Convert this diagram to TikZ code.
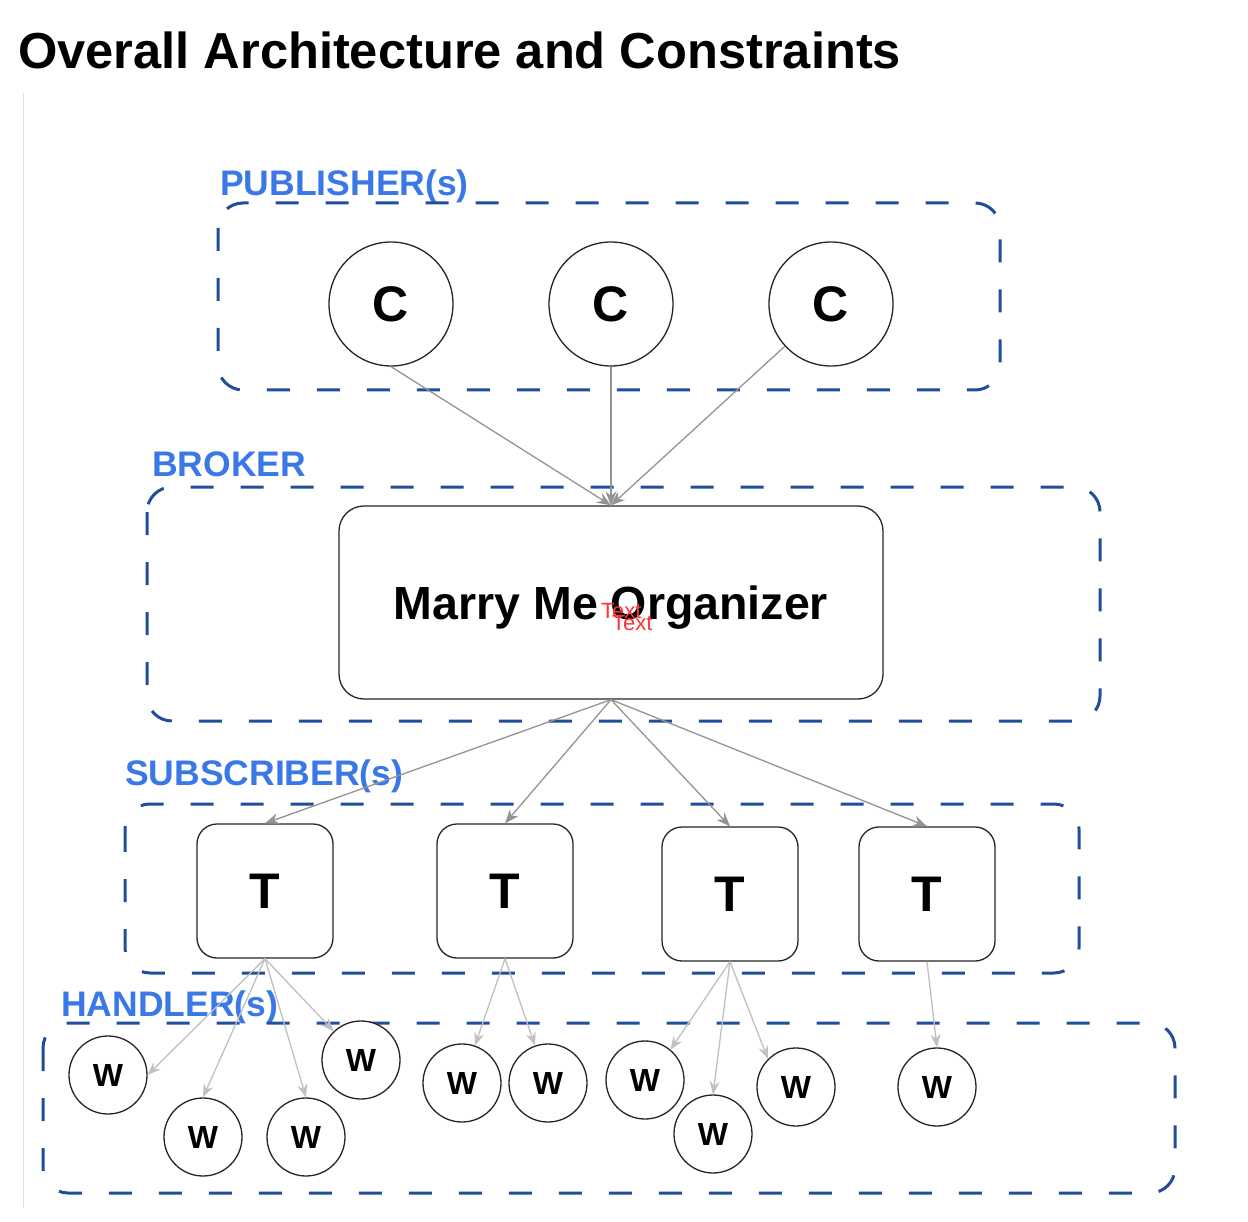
\documentclass[tikz,border=0pt]{standalone}
\usepackage{fontspec}
\setmainfont{Liberation Sans}
\usetikzlibrary{arrows.meta}
\definecolor{boxblue}{RGB}{33,78,155}
\definecolor{lblblue}{RGB}{59,120,231}
\definecolor{arrgray}{RGB}{148,148,148}
\definecolor{arrlight}{RGB}{192,192,192}
\definecolor{txtred}{RGB}{255,51,51}
\begin{document}
\begin{tikzpicture}[x=1pt,y=-1pt,
  group/.style={draw=boxblue, line width=3pt, dash pattern=on 23pt off 27pt, rounded corners=25pt},
  grouplabel/.style={anchor=base west, inner sep=0pt, text=lblblue, font=\fontsize{35.5}{40}\selectfont\bfseries},
  cnode/.style={circle, draw=black!85, line width=1.3pt, fill=white, minimum size=124pt, inner sep=0pt, text depth=0pt, font=\fontsize{50}{56}\selectfont\bfseries},
  tnode/.style={rectangle, rounded corners=20pt, draw=black!85, line width=1.3pt, fill=white, minimum width=136pt, minimum height=134pt, inner sep=0pt, text depth=0pt, font=\fontsize{50}{56}\selectfont\bfseries},
  wnode/.style={circle, draw=black!85, line width=1.3pt, fill=white, minimum size=78pt, inner sep=0pt, text depth=0pt, font=\fontsize{32}{36}\selectfont\bfseries},
  mnode/.style={rectangle, rounded corners=25pt, draw=black!85, line width=1.3pt, fill=white, minimum width=544pt, minimum height=193pt, inner sep=0pt, text depth=0pt, font=\fontsize{46.5}{52}\selectfont\bfseries},
  mainarrow/.style={draw=arrgray, line width=1.3pt, -{Stealth[length=14pt,width=11pt]}},
  subarrow/.style={draw=arrlight, line width=1.3pt, -{Stealth[length=13pt,width=10pt]}},
  redtext/.style={anchor=base west, inner sep=0pt, text=txtred, font=\fontsize{22}{26}\selectfont}
]
\useasboundingbox (0,0) rectangle (1248,1222);
\fill[white] (0,0) rectangle (1248,1222);

% title and side rule
\node[anchor=base west, inner sep=0pt, font=\fontsize{50.6}{58}\selectfont\bfseries] (title) at (18,69) {Overall Architecture and Constraints};
\draw[black!12, line width=1pt] (23,93) -- (23,1208);

% group labels
\node[grouplabel] (lpub) at (220,196) {PUBLISHER(s)};
\node[grouplabel] (lbro) at (152,476) {BROKER};
\node[grouplabel] (lsub) at (125,785) {SUBSCRIBER(s)};
\node[grouplabel] (lhan) at (61,1016) {HANDLER(s)};

% group boxes
\draw[group] (218,203) rectangle (1000,390);
\draw[group] (147,487) rectangle (1100,721);
\draw[group] (125,804) rectangle (1079,973);
\draw[group] (43,1023) rectangle (1175,1193);

% publishers
\node[cnode] (c1) at (391,304) {C};
\node[cnode] (c2) at (611,304) {C};
\node[cnode] (c3) at (831,304) {C};

% broker
\node[mnode] (mmo) at (611,602.5) {Marry Me Organizer};
\node[redtext] (rt1) at (601,618) {Text};
\node[redtext] (rt2) at (612,630) {Text};

% subscribers
\node[tnode] (t1) at (265,891) {T};
\node[tnode] (t2) at (505,891) {T};
\node[tnode] (t3) at (730,894) {T};
\node[tnode] (t4) at (927,894) {T};

% handlers
\node[wnode] (w1) at (108,1075) {W};
\node[wnode] (w2) at (203,1137) {W};
\node[wnode] (w3) at (306,1137) {W};
\node[wnode] (w4) at (361,1060) {W};
\node[wnode] (w5) at (462,1083) {W};
\node[wnode] (w6) at (548,1083) {W};
\node[wnode] (w7) at (645,1080) {W};
\node[wnode] (w8) at (713,1134) {W};
\node[wnode] (w9) at (796,1087) {W};
\node[wnode] (w10) at (937,1087) {W};

% connectors publishers -> broker
\draw[mainarrow] (c1.south) -- (mmo.north);
\draw[mainarrow] (c2.south) -- (mmo.north);
\draw[mainarrow] (c3) -- (mmo.north);

% broker -> subscribers
\draw[mainarrow] (mmo.south) -- (t1.north);
\draw[mainarrow] (mmo.south) -- (t2.north);
\draw[mainarrow] (mmo.south) -- (t3.north);
\draw[mainarrow] (mmo.south) -- (t4.north);

% subscribers -> handlers
\draw[subarrow] (t1.south) -- (w1.east);
\draw[subarrow] (t1.south) -- (w2.north);
\draw[subarrow] (t1.south) -- (w3.north);
\draw[subarrow] (t1.south) -- (w4);
\draw[subarrow] (t2.south) -- (w5);
\draw[subarrow] (t2.south) -- (w6);
\draw[subarrow] (t3.south) -- (w7.50);
\draw[subarrow] (t3.south) -- (w8.north);
\draw[subarrow] (t3.south) -- (w9.135);
\draw[subarrow] (t4.south) -- (w10.north);
\end{tikzpicture}
\end{document}
